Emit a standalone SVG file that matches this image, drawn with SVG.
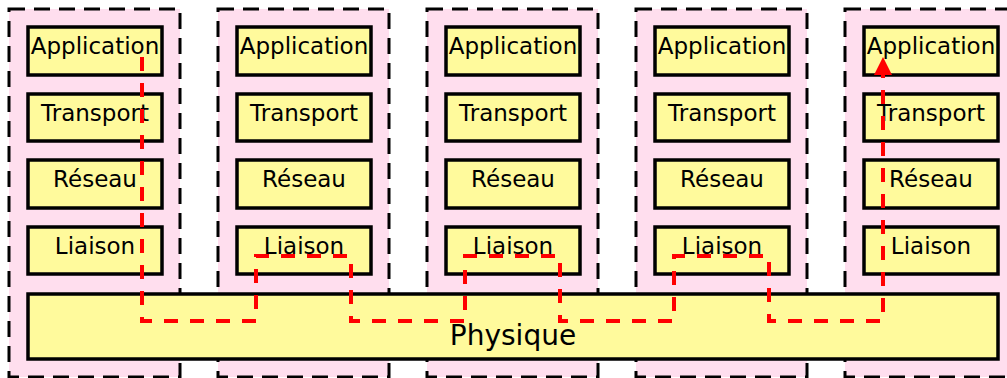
<svg xmlns="http://www.w3.org/2000/svg" width="1007" height="378" viewBox="0 0 1007 378">
<style>
.cont{fill:#ffdeee;stroke:#000;stroke-width:3;stroke-dasharray:16 9}
.box{fill:#fffa9c;stroke:#000;stroke-width:3.5}
.lbl{font-family:"DejaVu Sans",Verdana,sans-serif;font-size:23px;fill:#000;text-anchor:middle}
.big{font-size:28px}
.flow{fill:none;stroke:#ff0000;stroke-width:4;stroke-dasharray:14 12}
</style>
<defs>
<marker id="ah" markerWidth="18" markerHeight="18" refX="0" refY="9" orient="auto" markerUnits="userSpaceOnUse" viewBox="0 0 18 18">
<path d="M0,0 L18,9 L0,18 Z" fill="#ff0000"/>
</marker>
</defs>
<g id="host1">
<rect class="cont" x="9" y="9" width="171" height="368"/>
<rect class="box" x="28" y="27" width="134" height="48"/><text class="lbl" x="95" y="54">Application</text>
<rect class="box" x="28" y="94" width="134" height="47"/><text class="lbl" x="95" y="121">Transport</text>
<rect class="box" x="28" y="160" width="134" height="48"/><text class="lbl" x="95" y="187">Réseau</text>
<rect class="box" x="28" y="227" width="134" height="47"/><text class="lbl" x="95" y="254">Liaison</text>
</g>
<g id="host2">
<rect class="cont" x="218" y="9" width="171" height="368"/>
<rect class="box" x="237" y="27" width="134" height="48"/><text class="lbl" x="304" y="54">Application</text>
<rect class="box" x="237" y="94" width="134" height="47"/><text class="lbl" x="304" y="121">Transport</text>
<rect class="box" x="237" y="160" width="134" height="48"/><text class="lbl" x="304" y="187">Réseau</text>
<rect class="box" x="237" y="227" width="134" height="47"/><text class="lbl" x="304" y="254">Liaison</text>
</g>
<g id="host3">
<rect class="cont" x="427" y="9" width="171" height="368"/>
<rect class="box" x="446" y="27" width="134" height="48"/><text class="lbl" x="513" y="54">Application</text>
<rect class="box" x="446" y="94" width="134" height="47"/><text class="lbl" x="513" y="121">Transport</text>
<rect class="box" x="446" y="160" width="134" height="48"/><text class="lbl" x="513" y="187">Réseau</text>
<rect class="box" x="446" y="227" width="134" height="47"/><text class="lbl" x="513" y="254">Liaison</text>
</g>
<g id="host4">
<rect class="cont" x="636" y="9" width="171" height="368"/>
<rect class="box" x="655" y="27" width="134" height="48"/><text class="lbl" x="722" y="54">Application</text>
<rect class="box" x="655" y="94" width="134" height="47"/><text class="lbl" x="722" y="121">Transport</text>
<rect class="box" x="655" y="160" width="134" height="48"/><text class="lbl" x="722" y="187">Réseau</text>
<rect class="box" x="655" y="227" width="134" height="47"/><text class="lbl" x="722" y="254">Liaison</text>
</g>
<g id="host5">
<rect class="cont" x="845" y="9" width="171" height="368"/>
<rect class="box" x="864" y="27" width="134" height="48"/><text class="lbl" x="931" y="54">Application</text>
<rect class="box" x="864" y="94" width="134" height="47"/><text class="lbl" x="931" y="121">Transport</text>
<rect class="box" x="864" y="160" width="134" height="48"/><text class="lbl" x="931" y="187">Réseau</text>
<rect class="box" x="864" y="227" width="134" height="47"/><text class="lbl" x="931" y="254">Liaison</text>
</g>
<g id="physique">
<rect class="box" x="28" y="294" width="970" height="65"/>
<text class="lbl big" x="513" y="345">Physique</text>
</g>
<g id="connectors">
<path class="flow" d="M142,57 V321 H256 V256 H351 V321 H465 V256 H560 V321 H674 V256 H769 V321 H883 V75" marker-end="url(#ah)"/>
</g>
</svg>
